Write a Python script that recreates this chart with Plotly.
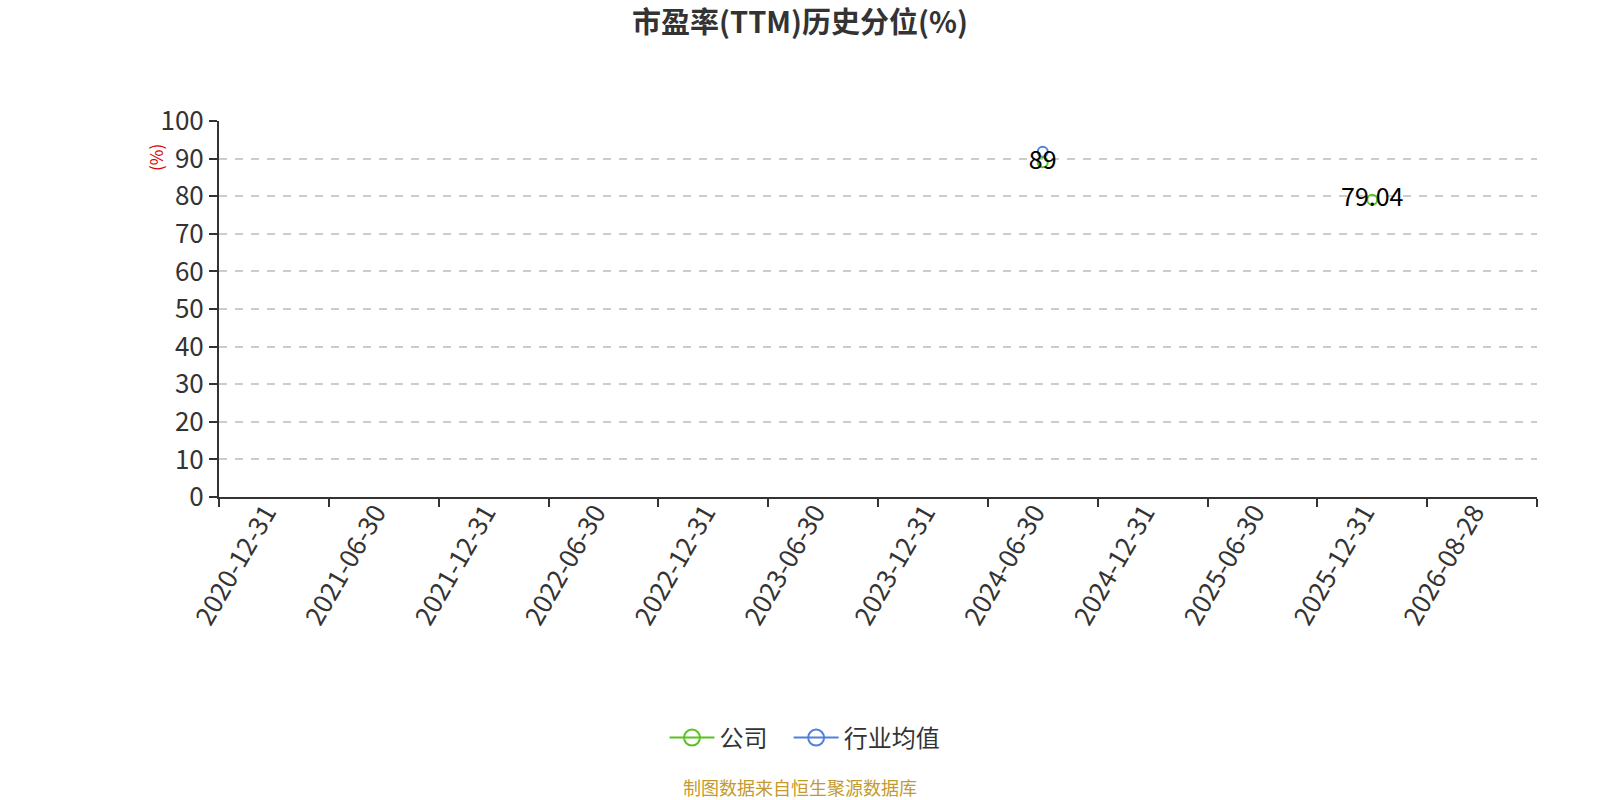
import plotly.graph_objects as go

# 数据
dates = ['2020-12-31', '2021-06-30', '2021-12-31', '2022-06-30', '2022-12-31',
         '2023-06-30', '2023-12-31', '2024-06-30', '2024-12-31', '2025-06-30',
         '2025-12-31', '2026-08-28']
company = [None, None, None, None, None, None, None, 89, None, None, 79.04, None]
industry = [None, None, None, None, None, None, None, 91.8, None, None, None, None]

company_labels = ['' if v is None else ('%g' % v) for v in company]

green = '#5bc21f'
blue = '#4e80e0'
font_family = 'Noto Sans CJK SC, Noto Sans, sans-serif'

# plot area in page pixels (body margin removed below)
FW, FH = 1600, 800
L, R, T, B = 219, 1537, 121, 497
W, H = R - L, B - T

fig = go.Figure()

fig.add_trace(go.Scatter(
    x=dates, y=industry, mode='lines+markers', name='行业均值',
    line=dict(color=blue, width=2),
    marker=dict(symbol='circle-open', size=10, color=blue, line=dict(width=2)),
    showlegend=False, cliponaxis=False,
))
fig.add_trace(go.Scatter(
    x=dates, y=company, mode='lines+markers+text', name='公司',
    line=dict(color=green, width=2),
    marker=dict(symbol='circle-open', size=10, color=green, line=dict(width=2)),
    text=company_labels, textposition='middle center',
    textfont=dict(size=25, color='#000000', family=font_family),
    showlegend=False, cliponaxis=False,
))

# legend entries with bigger markers
fig.add_trace(go.Scatter(
    x=[None], y=[None], mode='lines+markers', name='公司\u00a0\u00a0\u00a0',
    line=dict(color=green, width=2),
    marker=dict(symbol='circle-open', size=22, color=green, line=dict(width=2)),
))
fig.add_trace(go.Scatter(
    x=[None], y=[None], mode='lines+markers', name='行业均值',
    line=dict(color=blue, width=2),
    marker=dict(symbol='circle-open', size=22, color=blue, line=dict(width=2)),
))

fig.update_layout(
    width=FW, height=FH,
    paper_bgcolor='white', plot_bgcolor='white',
    margin=dict(l=L, r=FW - R, t=T, b=FH - B),
    font=dict(family=font_family, color='#333333', size=26),
    title=dict(text='<b>市盈率(TTM)历史分位(%)</b>', x=0.5, xanchor='center',
               y=1 - 23 / FH, yanchor='middle',
               font=dict(size=29, color='#333333', family=font_family)),
    legend=dict(orientation='h', x=(805 - L) / W, xanchor='center',
                y=(B - 738) / H, yanchor='middle',
                font=dict(size=24, color='#333333'), itemwidth=45),
    xaxis=dict(
        type='category', categoryorder='array', categoryarray=dates,
        range=[-0.5, len(dates) - 0.5],
        tickson='boundaries', ticks='outside', ticklen=8, tickwidth=2, tickcolor='#333333',
        showline=True, linecolor='#333333', linewidth=2,
        showgrid=False, tickangle=-60,
        ticklabelstandoff=-12, ticklabelshift=-8,
        tickfont=dict(size=26, color='#333333'),
    ),
    yaxis=dict(
        range=[0, 100], tickmode='linear', tick0=0, dtick=10,
        ticks='outside', ticklen=8, tickwidth=2, tickcolor='#333333',
        showline=True, linecolor='#333333', linewidth=2,
        showgrid=True, gridcolor='#cccccc', griddash='8px,8px', gridwidth=1.5,
        zeroline=False, tickfont=dict(size=26, color='#333333'),
    ),
    annotations=[
        dict(text='(%)', xref='paper', yref='paper', x=(155 - L) / W,
             y=(B - 158) / H,
             textangle=-90, showarrow=False, font=dict(size=17, color='#dd0000'),
             xanchor='center', yanchor='middle'),
        dict(text='制图数据来自恒生聚源数据库', xref='paper', yref='paper',
             x=(800 - L) / W, y=(B - 787) / H, showarrow=False,
             xanchor='center', yanchor='middle',
             font=dict(size=18, color='#c49a2c')),
    ],
)

fig.write_html('out.html', config={'displayModeBar': False},
               post_script="document.body.style.margin='0';")
